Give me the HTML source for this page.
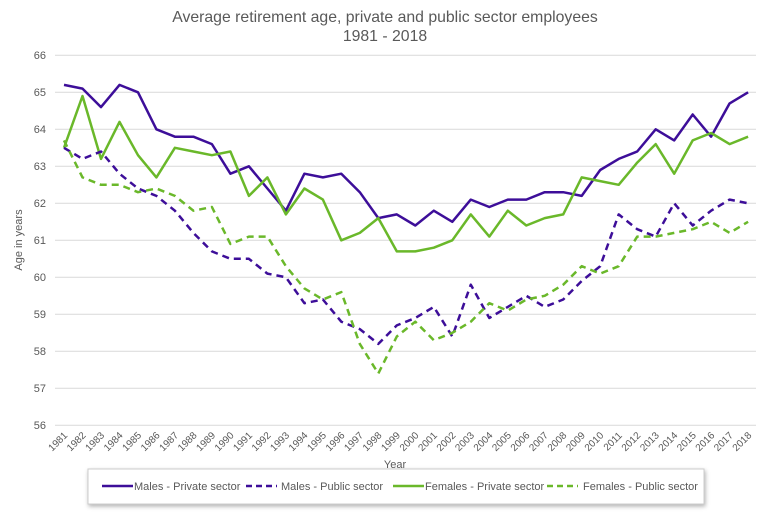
<!DOCTYPE html>
<html><head><meta charset="utf-8"><style>
body{margin:0;background:#fff;width:770px;height:515px;overflow:hidden;font-family:"Liberation Sans",sans-serif}
</style></head><body>
<svg id="s" width="770" height="515" xmlns="http://www.w3.org/2000/svg" font-family="Liberation Sans, sans-serif">
<text x="385" y="22" text-anchor="middle" font-size="15.8" fill="#595959">Average retirement age, private and public sector employees</text>
<text x="385" y="41" text-anchor="middle" font-size="15.8" fill="#595959">1981 - 2018</text>
<g id="grid" stroke="#d9d9d9" stroke-width="1"></g>
<g font-size="11" fill="#595959" text-anchor="end">
<text x="46" y="59">66</text><text x="46" y="96">65</text><text x="46" y="133">64</text><text x="46" y="170">63</text><text x="46" y="207">62</text><text x="46" y="244">61</text><text x="46" y="281">60</text><text x="46" y="318">59</text><text x="46" y="355">58</text><text x="46" y="392">57</text><text x="46" y="429">56</text>
</g>
<text transform="translate(22,240) rotate(-90)" text-anchor="middle" font-size="11" fill="#595959">Age in years</text>
<g id="xl" font-size="10" fill="#595959" text-anchor="end">
<text>1981</text><text>1982</text><text>1983</text><text>1984</text><text>1985</text><text>1986</text><text>1987</text><text>1988</text><text>1989</text><text>1990</text><text>1991</text><text>1992</text><text>1993</text><text>1994</text><text>1995</text><text>1996</text><text>1997</text><text>1998</text><text>1999</text><text>2000</text><text>2001</text><text>2002</text><text>2003</text><text>2004</text><text>2005</text><text>2006</text><text>2007</text><text>2008</text><text>2009</text><text>2010</text><text>2011</text><text>2012</text><text>2013</text><text>2014</text><text>2015</text><text>2016</text><text>2017</text><text>2018</text>
</g>
<g id="lines" fill="none" stroke-width="2.5" stroke-linejoin="round"></g>
<rect x="88" y="469" width="616" height="35" fill="#fff" stroke="#ccc" style="filter:drop-shadow(1px 2px 2px rgba(0,0,0,0.3))"/>
<text x="395" y="468" text-anchor="middle" font-size="11" fill="#595959">Year</text>
<g font-size="11" fill="#595959">
<line x1="102" y1="486" x2="133" y2="486" stroke="#3d0e99" stroke-width="2.5"/><text x="134" y="490">Males - Private sector</text>
<line x1="246" y1="486" x2="277" y2="486" stroke="#3d0e99" stroke-width="2.5" stroke-dasharray="6,4"/><text x="281" y="490">Males - Public sector</text>
<line x1="393" y1="486" x2="424" y2="486" stroke="#6ab82a" stroke-width="2.5"/><text x="425" y="490">Females - Private sector</text>
<line x1="547" y1="486" x2="578" y2="486" stroke="#6ab82a" stroke-width="2.5" stroke-dasharray="6,4"/><text x="583" y="490">Females - Public sector</text>
</g>
</svg>
<script>
var NS="http://www.w3.org/2000/svg";
function Y(v){return 92.3+(65-v)*37}
function X(i){return 64+i*18.49}
var g=document.getElementById("grid");
for(var v=56;v<=66;v++){var l=document.createElementNS(NS,"line");l.setAttribute("x1",55);l.setAttribute("x2",756);l.setAttribute("y1",Y(v));l.setAttribute("y2",Y(v));g.appendChild(l);}
var t=document.getElementById("xl").children;
for(var i=0;i<t.length;i++){t[i].setAttribute("transform","translate("+(X(i)+4)+",436) rotate(-45)");}
var D=[
["#3d0e99","",[65.2,65.1,64.6,65.2,65.0,64.0,63.8,63.8,63.6,62.8,63.0,62.4,61.8,62.8,62.7,62.8,62.3,61.6,61.7,61.4,61.8,61.5,62.1,61.9,62.1,62.1,62.3,62.3,62.2,62.9,63.2,63.4,64.0,63.7,64.4,63.8,64.7,65.0]],
["#6ab82a","",[63.5,64.9,63.2,64.2,63.3,62.7,63.5,63.4,63.3,63.4,62.2,62.7,61.7,62.4,62.1,61.0,61.2,61.6,60.7,60.7,60.8,61.0,61.7,61.1,61.8,61.4,61.6,61.7,62.7,62.6,62.5,63.1,63.6,62.8,63.7,63.9,63.6,63.8]],
["#3d0e99","7,5",[63.5,63.2,63.4,62.8,62.4,62.2,61.8,61.2,60.7,60.5,60.5,60.1,60.0,59.3,59.4,58.8,58.6,58.2,58.7,58.9,59.2,58.4,59.8,58.9,59.2,59.5,59.2,59.4,59.9,60.3,61.7,61.3,61.1,62.0,61.4,61.8,62.1,62.0]],
["#6ab82a","7,5",[63.7,62.7,62.5,62.5,62.3,62.4,62.2,61.8,61.9,60.9,61.1,61.1,60.3,59.7,59.4,59.6,58.2,57.4,58.4,58.8,58.3,58.5,58.8,59.3,59.1,59.4,59.5,59.8,60.3,60.1,60.3,61.1,61.1,61.2,61.3,61.5,61.2,61.5]]];
var L=document.getElementById("lines");
D.forEach(function(d){var p=document.createElementNS(NS,"polyline");p.setAttribute("points",d[2].map(function(v,i){return X(i).toFixed(1)+","+Y(v).toFixed(1)}).join(" "));p.setAttribute("stroke",d[0]);if(d[1])p.setAttribute("stroke-dasharray",d[1]);L.appendChild(p);});
</script>
</body></html>
